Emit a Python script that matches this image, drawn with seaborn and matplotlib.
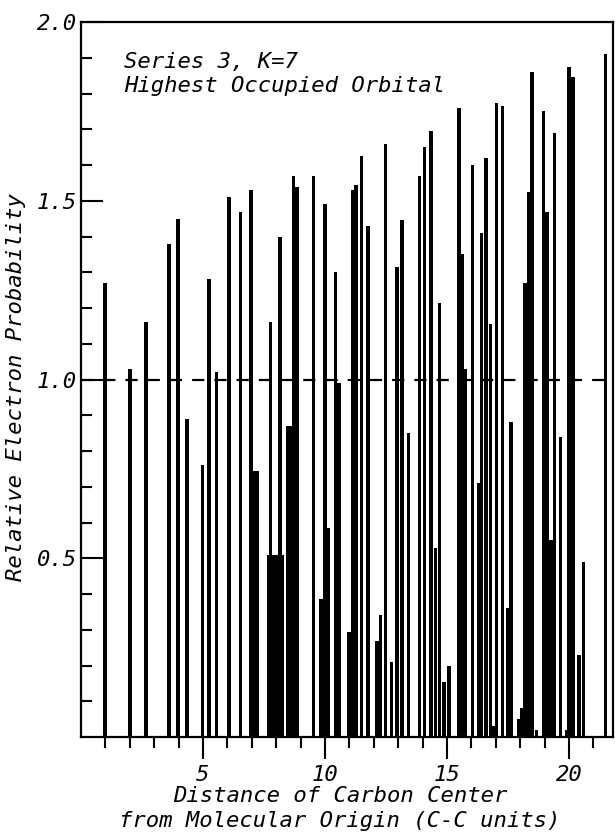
import numpy as np
import pandas as pd
import seaborn as sns
import matplotlib.pyplot as plt
from matplotlib.ticker import FixedLocator

# Posicao dos centros de carbono (unidades C-C) e probabilidade relativa
distance = [0.98, 2.00, 2.66, 3.60, 3.98, 4.35, 4.99, 5.25, 5.55, 6.06,
            6.54, 6.97, 7.07, 7.22, 7.70, 7.77, 7.89, 8.02, 8.16, 8.26,
            8.48, 8.61, 8.71, 8.85, 9.53, 9.84, 10.00, 10.12, 10.43, 10.57,
            10.98, 11.15, 11.27, 11.50, 11.76, 12.13, 12.27, 12.48, 12.73, 12.95,
            13.16, 13.42, 13.87, 14.08, 14.34, 14.53, 14.69, 14.88, 15.08, 15.49,
            15.61, 15.76, 16.05, 16.31, 16.41, 16.60, 16.78, 16.93, 17.03, 17.27,
            17.48, 17.62, 17.93, 18.07, 18.20, 18.36, 18.48, 18.67, 18.95, 19.10,
            19.20, 19.28, 19.41, 19.65, 19.90, 20.00, 20.16, 20.41, 20.59, 21.50]
probability = [1.27, 1.03, 1.16, 1.38, 1.45, 0.89, 0.76, 1.28, 1.02, 1.51,
               1.47, 1.53, 0.745, 0.745, 0.51, 1.16, 0.51, 0.51, 1.40, 0.51,
               0.87, 0.87, 1.57, 1.54, 1.57, 0.386, 1.49, 0.586, 1.30, 0.99,
               0.295, 1.53, 1.545, 1.625, 1.43, 0.27, 0.34, 1.66, 0.21, 1.315,
               1.445, 0.85, 1.57, 1.65, 1.695, 0.53, 1.215, 0.155, 0.20, 1.76,
               1.35, 1.03, 1.60, 0.71, 1.41, 1.62, 1.155, 0.03, 1.775, 1.765,
               0.36, 0.88, 0.05, 0.08, 1.27, 1.525, 1.86, 0.02, 1.75, 1.47,
               0.55, 0.55, 1.69, 0.84, 0.02, 1.875, 1.845, 0.23, 0.49, 1.91]

x_ticks = [5, 10, 15, 20]
x_tick_labels = ["5", "10", "15", "20"]
y_ticks = [0.5, 1.0, 1.5, 2.0]
y_tick_labels = ["0.5", "1.0", "1.5", "2.0"]
title_lines = ["Series 3, K=7", "Highest Occupied Orbital"]

df = pd.DataFrame({"distance": distance, "probability": probability})

sns.set_style("ticks")
plt.rcParams["font.family"] = ["DejaVu Sans Mono"]
plt.rcParams["font.style"] = "italic"
for key in ["text.color", "axes.labelcolor", "xtick.color", "ytick.color"]:
    plt.rcParams[key] = "black"

fig = plt.figure(figsize=(6.15, 8.33), dpi=100)
ax = fig.add_axes([0.1317, 0.1152, 0.865, 0.8583])

# largura de barra ~0.14 unidades, relativa ao menor espacamento
min_gap = np.diff(np.sort(df["distance"].values)).min()
sns.barplot(data=df, x="distance", y="probability", native_scale=True,
            width=0.14 / min_gap, color="black", saturation=1,
            errorbar=None, linewidth=0, ax=ax)

ax.axhline(1.0, color="black", lw=1.6, ls=(0, (5.5, 4.5)), zorder=3)

ax.set_xlim(0, 21.8)
ax.set_ylim(0, 2.0)

ax.xaxis.set_major_locator(FixedLocator(x_ticks))
ax.set_xticklabels(x_tick_labels)
ax.xaxis.set_minor_locator(FixedLocator(np.arange(1, 22)))
ax.yaxis.set_major_locator(FixedLocator(y_ticks))
ax.set_yticklabels(y_tick_labels)
ax.yaxis.set_minor_locator(FixedLocator(np.arange(0.1, 2.0, 0.1)))

ax.tick_params(axis="y", which="major", direction="in", length=16, width=1.5,
               labelsize=16, pad=3)
ax.tick_params(axis="y", which="minor", direction="in", length=8, width=1.5)
ax.tick_params(axis="x", which="major", direction="out", length=16, width=1.5,
               labelsize=16, pad=4)
ax.tick_params(axis="x", which="minor", direction="out", length=8, width=1.5)

for sp in ax.spines.values():
    sp.set_visible(True)
    sp.set_linewidth(1.6)
    sp.set_color("black")

ax.text(1.78, 1.871, title_lines[0], fontsize=16, va="baseline")
ax.text(1.78, 1.804, title_lines[1], fontsize=16, va="baseline")

ax.set_ylabel("Relative Electron Probability", fontsize=16)
ax.yaxis.set_label_coords(-0.103, 0.49)
ax.set_xlabel("Distance of Carbon Center\nfrom Molecular Origin (C-C units)",
              fontsize=16, linespacing=1.3)
ax.xaxis.set_label_coords(0.487, -0.069)

fig.savefig("out.png", dpi=100)
